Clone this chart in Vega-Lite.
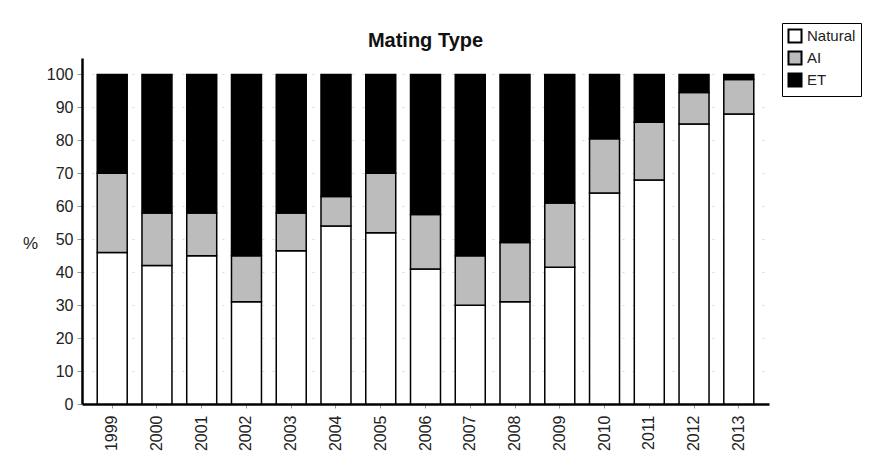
{
  "$schema": "https://vega.github.io/schema/vega-lite/v6.json",
  "autosize": "none",
  "width": 687,
  "height": 346,
  "padding": {"left": 82, "top": 58, "right": 101, "bottom": 72},
  "background": "white",
  "title": {"text": "Mating Type", "fontSize": 20, "fontWeight": "bold", "font": "Liberation Sans", "color": "#111", "anchor": "middle", "offset": -28},
  "data": {"values": [
    {"year": "1999", "type": "Natural", "pct": 46},
    {"year": "1999", "type": "AI", "pct": 24},
    {"year": "1999", "type": "ET", "pct": 30},
    {"year": "2000", "type": "Natural", "pct": 42},
    {"year": "2000", "type": "AI", "pct": 16},
    {"year": "2000", "type": "ET", "pct": 42},
    {"year": "2001", "type": "Natural", "pct": 45},
    {"year": "2001", "type": "AI", "pct": 13},
    {"year": "2001", "type": "ET", "pct": 42},
    {"year": "2002", "type": "Natural", "pct": 31},
    {"year": "2002", "type": "AI", "pct": 14},
    {"year": "2002", "type": "ET", "pct": 55},
    {"year": "2003", "type": "Natural", "pct": 46.5},
    {"year": "2003", "type": "AI", "pct": 11.5},
    {"year": "2003", "type": "ET", "pct": 42},
    {"year": "2004", "type": "Natural", "pct": 54},
    {"year": "2004", "type": "AI", "pct": 9},
    {"year": "2004", "type": "ET", "pct": 37},
    {"year": "2005", "type": "Natural", "pct": 52},
    {"year": "2005", "type": "AI", "pct": 18},
    {"year": "2005", "type": "ET", "pct": 30},
    {"year": "2006", "type": "Natural", "pct": 41},
    {"year": "2006", "type": "AI", "pct": 16.5},
    {"year": "2006", "type": "ET", "pct": 42.5},
    {"year": "2007", "type": "Natural", "pct": 30},
    {"year": "2007", "type": "AI", "pct": 15},
    {"year": "2007", "type": "ET", "pct": 55},
    {"year": "2008", "type": "Natural", "pct": 31},
    {"year": "2008", "type": "AI", "pct": 18},
    {"year": "2008", "type": "ET", "pct": 51},
    {"year": "2009", "type": "Natural", "pct": 41.5},
    {"year": "2009", "type": "AI", "pct": 19.5},
    {"year": "2009", "type": "ET", "pct": 39},
    {"year": "2010", "type": "Natural", "pct": 64},
    {"year": "2010", "type": "AI", "pct": 16.5},
    {"year": "2010", "type": "ET", "pct": 19.5},
    {"year": "2011", "type": "Natural", "pct": 68},
    {"year": "2011", "type": "AI", "pct": 17.5},
    {"year": "2011", "type": "ET", "pct": 14.5},
    {"year": "2012", "type": "Natural", "pct": 85},
    {"year": "2012", "type": "AI", "pct": 9.5},
    {"year": "2012", "type": "ET", "pct": 5.5},
    {"year": "2013", "type": "Natural", "pct": 88},
    {"year": "2013", "type": "AI", "pct": 10.5},
    {"year": "2013", "type": "ET", "pct": 1.5}
  ]},
  "transform": [
    {"calculate": "indexof(['Natural', 'AI', 'ET'], datum.type)", "as": "stackRank"}
  ],
  "mark": {"type": "bar", "stroke": "black", "strokeWidth": 1.5},
  "encoding": {
    "x": {
      "field": "year", "type": "ordinal",
      "scale": {"paddingInner": 0.33, "paddingOuter": 0.34},
      "axis": {
        "title": null, "labelAngle": -90, "labelFont": "Liberation Sans", "labelFontSize": 16, "labelColor": "#222",
        "labelPadding": 7, "domainColor": "black", "domainWidth": 2.5, "tickColor": "#999", "tickSize": 4,
        "grid": false
      }
    },
    "y": {
      "field": "pct", "type": "quantitative", "stack": "zero",
      "scale": {"domain": [0, 105], "nice": false},
      "axis": {
        "values": [0, 10, 20, 30, 40, 50, 60, 70, 80, 90, 100],
        "title": "%", "titleAngle": 0, "titleX": -52, "titleY": 185, "titleAlign": "center", "titleBaseline": "middle",
        "titleFont": "Liberation Sans", "titleFontSize": 17, "titleFontWeight": "normal", "titleColor": "#222",
        "labelFont": "Liberation Sans", "labelFontSize": 16, "labelColor": "#222", "labelPadding": 4,
        "domainColor": "black", "domainWidth": 2.5, "tickColor": "#999", "tickSize": 5,
        "grid": true, "gridColor": "#d8d8d8", "gridDash": [2, 8]
      }
    },
    "color": {
      "field": "type", "type": "nominal",
      "sort": ["Natural", "AI", "ET"],
      "scale": {"domain": ["Natural", "AI", "ET"], "range": ["#ffffff", "#bcbcbc", "#000000"]},
      "legend": {
        "title": null, "orient": "none", "legendX": 700, "legendY": -35,
        "symbolType": "square", "symbolSize": 170, "symbolStrokeColor": "black", "symbolStrokeWidth": 2,
        "labelFont": "Liberation Sans", "labelFontSize": 15, "labelColor": "#222",
        "strokeColor": "black", "fillColor": "white", "padding": 5, "rowPadding": 0
      }
    },
    "order": {"field": "stackRank", "type": "quantitative", "sort": "ascending"}
  },
  "config": {"view": {"stroke": null}}
}
